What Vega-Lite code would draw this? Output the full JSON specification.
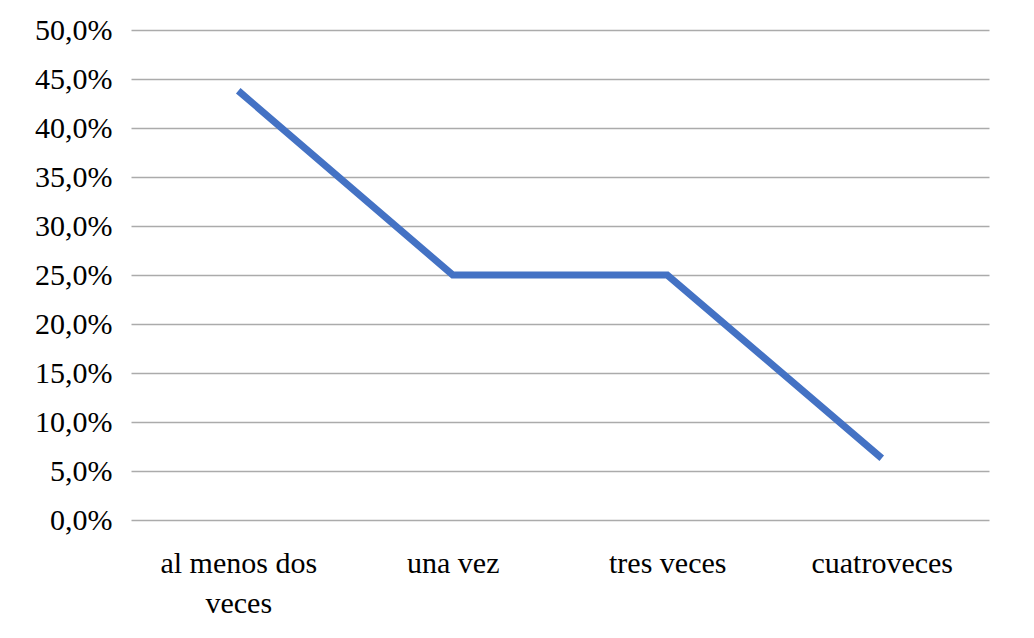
{
  "$schema": "https://vega.github.io/schema/vega-lite/v6.json",
  "autosize": {"type": "none"},
  "width": 858,
  "height": 490,
  "padding": {"left": 131, "top": 30, "right": 45, "bottom": 118},
  "background": "white",
  "data": {
    "values": [
      {"categoria": "al menos dos veces", "valor": 0.438},
      {"categoria": "una vez", "valor": 0.25},
      {"categoria": "tres veces", "valor": 0.25},
      {"categoria": "cuatroveces", "valor": 0.063}
    ]
  },
  "mark": {"type": "line", "color": "#4472C4", "strokeWidth": 7, "strokeCap": "butt", "strokeJoin": "miter"},
  "encoding": {
    "x": {
      "field": "categoria",
      "type": "ordinal",
      "sort": null,
      "scale": {"type": "point", "padding": 0.5},
      "axis": {
        "title": null,
        "domain": false,
        "ticks": false,
        "grid": false,
        "labelAngle": 0,
        "labelFont": "'Liberation Serif', 'Times New Roman', serif",
        "labelFontSize": 30,
        "labelColor": "black",
        "labelPadding": 28,
        "labelBaseline": "top",
        "labelLineHeight": 40,
        "labelExpr": "datum.value == 'al menos dos veces' ? ['al menos dos', 'veces'] : datum.value"
      }
    },
    "y": {
      "field": "valor",
      "type": "quantitative",
      "scale": {"domain": [0, 0.5], "nice": false},
      "axis": {
        "title": null,
        "domain": false,
        "ticks": false,
        "values": [0, 0.05, 0.1, 0.15, 0.2, 0.25, 0.3, 0.35, 0.4, 0.45, 0.5],
        "gridColor": "#ababab",
        "gridWidth": 1.5,
        "gridOpacity": 1,
        "labelFont": "'Liberation Serif', 'Times New Roman', serif",
        "labelFontSize": 30,
        "labelColor": "black",
        "labelPadding": 19,
        "labelExpr": "replace(format(datum.value, '.1%'), '.', ',')"
      }
    }
  },
  "config": {"view": {"stroke": null}}
}
